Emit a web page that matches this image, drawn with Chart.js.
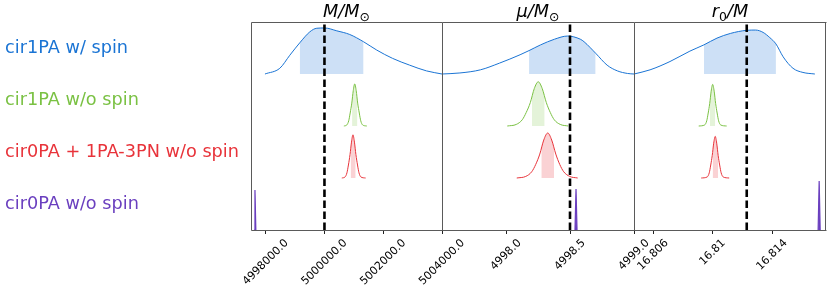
<!DOCTYPE html>
<html>
<head>
<meta charset="utf-8">
<script src="https://cdn.jsdelivr.net/npm/chart.js@4.4.0/dist/chart.umd.min.js"></script>
<style>
	body { margin: 0; background: #fff; }
	#wrap { position: relative; width: 830px; height: 290px; }
	#wrap canvas { position: absolute; left: 0; top: 0; }
</style>
</head>
<body>
<div id="wrap">
	<canvas id="pM" width="830" height="290"></canvas>
	<canvas id="pMu" width="830" height="290"></canvas>
	<canvas id="pR" width="830" height="290"></canvas>
</div>
<script>
// rows, top to bottom
const rowLabels = ['cir1PA w/ spin', 'cir1PA w/o spin', 'cir0PA + 1PA-3PN w/o spin', 'cir0PA w/o spin'];
const rowColors = ['#1a74d4', '#7ac143', '#e8333a', '#6a3fbf'];
const rowFills = ['rgba(26,116,212,0.22)', 'rgba(122,193,67,0.2)', 'rgba(232,51,58,0.22)', '#6a3fbf'];
const rowBase = [3, 2, 1, 0];

// M / Msun panel: [value, density height]
const mTicks = [4998000, 5000000, 5002000, 5004000];
const mTickLabels = ['4998000.0', '5000000.0', '5002000.0', '5004000.0'];
const mTrue = 5000000;
const mSpin = [[4997975, 0], [4998480, 0.11], [4998820, 0.36], [4999160, 0.60], [4999500, 0.81], [4999740, 0.88],
	[5000010, 0.885], [5000420, 0.83], [5000860, 0.76], [5001330, 0.62], [5001780, 0.46], [5002320, 0.30],
	[5002900, 0.17], [5003470, 0.06], [5004000, 0]];
const mSpinBand = [[4999160, 0.60], [4999500, 0.81], [4999740, 0.88], [5000010, 0.885], [5000420, 0.83], [5000860, 0.76], [5001330, 0.62]];
const mNoSpin = [[5000660, 0], [5000760, 0.02], [5000825, 0.10], [5000875, 0.25], [5000930, 0.44], [5000980, 0.68], [5001030, 0.81],
	[5001080, 0.68], [5001130, 0.44], [5001185, 0.25], [5001235, 0.10], [5001300, 0.02], [5001440, 0]];
const mNoSpinBand = [[5000940, 0.50], [5000980, 0.68], [5001030, 0.81], [5001080, 0.68], [5001120, 0.48]];
const mPN = [[5000590, 0], [5000700, 0.02], [5000765, 0.10], [5000815, 0.25], [5000870, 0.45], [5000920, 0.69], [5000970, 0.83],
	[5001020, 0.69], [5001070, 0.45], [5001125, 0.25], [5001175, 0.10], [5001240, 0.02], [5001400, 0]];
const mPNBand = [[5000892, 0.55], [5000920, 0.69], [5000970, 0.83], [5001020, 0.69], [5001062, 0.49]];
const mZero = [[4997605, 0], [4997635, 0.77], [4997665, 0]];

// mu / Msun panel
const muTicks = [4998.0, 4998.5, 4999.0];
const muTickLabels = ['4998.0', '4998.5', '4999.0'];
const muTrue = 4998.5;
const muSpin = [[4997.50, 0], [4997.64, 0.02], [4997.80, 0.08], [4997.95, 0.21], [4998.11, 0.37], [4998.18, 0.45],
	[4998.27, 0.56], [4998.38, 0.67], [4998.48, 0.73], [4998.58, 0.67], [4998.61, 0.62], [4998.70, 0.40],
	[4998.79, 0.17], [4998.87, 0.06], [4998.95, 0.01], [4999.0, 0]];
const muSpinBand = [[4998.18, 0.45], [4998.27, 0.56], [4998.38, 0.67], [4998.48, 0.73], [4998.58, 0.67], [4998.61, 0.62], [4998.70, 0.40]];
const muNoSpin = [[4998.010, 0], [4998.080, 0.03], [4998.127, 0.12], [4998.158, 0.26], [4998.190, 0.45], [4998.221, 0.72], [4998.252, 0.85],
	[4998.283, 0.72], [4998.315, 0.45], [4998.346, 0.26], [4998.377, 0.12], [4998.424, 0.03], [4998.486, 0]];
const muNoSpinBand = [[4998.203, 0.57], [4998.221, 0.72], [4998.252, 0.85], [4998.283, 0.72], [4998.302, 0.57]];
const muPN = [[4998.084, 0], [4998.154, 0.03], [4998.201, 0.12], [4998.232, 0.26], [4998.264, 0.46], [4998.295, 0.73], [4998.326, 0.865],
	[4998.357, 0.73], [4998.389, 0.46], [4998.420, 0.26], [4998.451, 0.12], [4998.498, 0.03], [4998.560, 0]];
const muPNBand = [[4998.276, 0.57], [4998.295, 0.73], [4998.326, 0.865], [4998.357, 0.73], [4998.375, 0.57]];
const muZero = [[4998.539, 0], [4998.547, 0.79], [4998.555, 0]];

// r0 / M panel
const rTicks = [16.806, 16.81, 16.814];
const rTickLabels = ['16.806', '16.81', '16.814'];
const rTrue = 16.8123;
const rSpin = [[16.80472, 0], [16.80580, 0.08], [16.80714, 0.24], [16.80848, 0.44], [16.80942, 0.56], [16.81030, 0.69],
	[16.81120, 0.78], [16.81231, 0.84], [16.81290, 0.845], [16.81340, 0.80], [16.81385, 0.70], [16.81426, 0.58],
	[16.81475, 0.33], [16.81541, 0.11], [16.81608, 0.03], [16.81688, 0]];
const rSpinBand = [[16.80942, 0.56], [16.81030, 0.69], [16.81120, 0.78], [16.81231, 0.84], [16.81290, 0.845], [16.81340, 0.80], [16.81385, 0.70], [16.81426, 0.58]];
const rNoSpin = [[16.80907, 0], [16.80947, 0.02], [16.80961, 0.10], [16.80971, 0.25], [16.80981, 0.43], [16.80991, 0.67], [16.81001, 0.80],
	[16.81011, 0.67], [16.81021, 0.43], [16.81031, 0.25], [16.81041, 0.10], [16.81055, 0.02], [16.81095, 0]];
const rNoSpinBand = [[16.80983, 0.48], [16.80991, 0.67], [16.81001, 0.80], [16.81011, 0.67], [16.81018, 0.50]];
const rPN = [[16.80924, 0], [16.80964, 0.02], [16.80978, 0.10], [16.80988, 0.25], [16.80998, 0.43], [16.81008, 0.67], [16.81018, 0.80],
	[16.81028, 0.67], [16.81038, 0.43], [16.81048, 0.25], [16.81058, 0.10], [16.81072, 0.02], [16.81112, 0]];
const rPNBand = [[16.81001, 0.50], [16.81008, 0.67], [16.81018, 0.80], [16.81028, 0.67], [16.81038, 0.43]];
const rZero = [[16.81710, 0], [16.81717, 0.94], [16.81724, 0]];

const FONT = 'DejaVu Sans';

// box round each panel
const frame = {
	id: 'frame',
	afterDatasetsDraw(chart, args, opts) {
		const a = chart.chartArea, ctx = chart.ctx;
		const l = Math.round(a.left) + 0.5, r = Math.round(a.right) - 0.5;
		const t = Math.round(a.top) + 0.5, b = Math.round(a.bottom) + 0.5;
		ctx.save();
		ctx.strokeStyle = '#5a5a5a';
		ctx.lineWidth = 1;
		ctx.beginPath();
		ctx.moveTo(l, b); ctx.lineTo(l, t); ctx.lineTo(r + 1, t);
		ctx.moveTo(l, b); ctx.lineTo(r + 1, b);
		if (opts.right) { ctx.moveTo(r, t); ctx.lineTo(r, b); }
		ctx.stroke();
		ctx.restore();
	}
};

// tick labels turned 45 degrees, centred under the tick
const rotatedTicks = {
	id: 'rotatedTicks',
	afterDraw(chart, args, opts) {
		const sx = chart.scales.x, ctx = chart.ctx;
		ctx.save();
		ctx.font = '11px "' + FONT + '"';
		ctx.fillStyle = '#000';
		ctx.textAlign = 'center';
		ctx.textBaseline = 'middle';
		sx.ticks.forEach(function(t, i) {
			const text = opts.labels[i];
			const w = ctx.measureText(text).width;
			const half = (w + 12) * Math.SQRT1_2 / 2;
			ctx.save();
			ctx.translate(sx.getPixelForValue(t.value), sx.top + 7 + half);
			ctx.rotate(-Math.PI / 4);
			ctx.fillText(text, 0, 0);
			ctx.restore();
		});
		ctx.restore();
	}
};

// mathtext-like title: italic parts and small subscripts
const mathTitle = {
	id: 'mathTitle',
	afterDraw(chart, args, opts) {
		const ctx = chart.ctx, a = chart.chartArea;
		const fontOf = p => (p.upright ? '' : 'italic ') + (p.sub ? 12.4 : 17.7) + 'px "' + FONT + '"';
		ctx.save();
		ctx.fillStyle = '#000';
		ctx.textBaseline = 'alphabetic';
		let total = 0;
		opts.parts.forEach(function(p) { ctx.font = fontOf(p); p.w = ctx.measureText(p.t).width; total += p.w; });
		let x = (a.left + a.right) / 2 - total / 2;
		opts.parts.forEach(function(p) {
			ctx.font = fontOf(p);
			ctx.fillText(p.t, x, a.top - 5 + (p.sub ? 3.5 : 0));
			x += p.w;
		});
		ctx.restore();
	}
};

function toXY(points, base) {
	return points.map(p => ({x: p[0], y: base + p[1]}));
}

function buildDatasets(curves, bands, spike, truth) {
	const sets = [];
	curves.forEach(function(c, i) {
		sets.push({data: toXY(c, rowBase[i]), borderColor: rowColors[i], borderWidth: 1, pointRadius: 0,
			fill: false, cubicInterpolationMode: 'monotone', order: 1});
	});
	bands.forEach(function(b, i) {
		sets.push({data: toXY(b, rowBase[i]), borderWidth: 0, borderColor: 'rgba(0,0,0,0)', backgroundColor: rowFills[i],
			pointRadius: 0, fill: {value: rowBase[i]}, cubicInterpolationMode: 'monotone', order: 2});
	});
	sets.push({data: toXY(spike, rowBase[3]), borderColor: rowColors[3], backgroundColor: rowFills[3], borderWidth: 1.2,
		pointRadius: 0, fill: {value: rowBase[3]}, tension: 0, order: 1});
	sets.push({data: [{x: truth, y: 0}, {x: truth, y: 4}], borderColor: '#000', borderWidth: 2.6, borderDash: [7.5, 3.5],
		pointRadius: 0, fill: false, tension: 0, order: 0});
	return sets;
}

const panels = [
	{id: 'pM', left: 251, right: 442, min: 4997500, max: 5004000, ticks: mTicks, labels: mTickLabels,
		curves: [mSpin, mNoSpin, mPN], bands: [mSpinBand, mNoSpinBand, mPNBand], spike: mZero, truth: mTrue,
		title: [{t: 'M/M'}, {t: '\u2299', sub: true, upright: true}]},
	{id: 'pMu', left: 442, right: 634, min: 4997.5, max: 4999.0, ticks: muTicks, labels: muTickLabels,
		curves: [muSpin, muNoSpin, muPN], bands: [muSpinBand, muNoSpinBand, muPNBand], spike: muZero, truth: muTrue,
		title: [{t: '\u03bc/M'}, {t: '\u2299', sub: true, upright: true}]},
	{id: 'pR', left: 634, right: 826, min: 16.80472, max: 16.81763, ticks: rTicks, labels: rTickLabels,
		curves: [rSpin, rNoSpin, rPN], bands: [rSpinBand, rNoSpinBand, rPNBand], spike: rZero, truth: rTrue,
		title: [{t: 'r'}, {t: '0', sub: true, upright: true}, {t: '/M'}]}
];

panels.forEach(function(p, k) {
	const first = k === 0;
	new Chart(document.getElementById(p.id), {
		type: 'line',
		data: {datasets: buildDatasets(p.curves, p.bands, p.spike, p.truth)},
		plugins: [frame, rotatedTicks, mathTitle],
		options: {
			responsive: false,
			animation: false,
			events: [],
			layout: {padding: {left: first ? 5 : p.left, right: 830 - p.right, top: 22, bottom: 0}},
			plugins: {
				legend: {display: false},
				tooltip: {enabled: false},
				frame: {right: k === panels.length - 1},
				rotatedTicks: {labels: p.labels},
				mathTitle: {parts: p.title}
			},
			scales: {
				x: {
					type: 'linear',
					min: p.min,
					max: p.max,
					afterBuildTicks: s => { s.ticks = p.ticks.map(v => ({value: v})); },
					afterFit: s => { s.height = 60; },
					ticks: {display: false},
					grid: {drawOnChartArea: false, drawTicks: true, tickLength: 4, color: '#222'},
					border: {display: false}
				},
				y: {
					display: first,
					min: 0,
					max: 4,
					afterBuildTicks: s => { s.ticks = [0.5, 1.5, 2.5, 3.5].map(v => ({value: v})); },
					afterFit: s => { s.width = first ? 246 : 0; },
					ticks: {
						crossAlign: 'far',
						autoSkip: false,
						font: {family: FONT, size: 17.7},
						color: ctx => rowColors[3 - Math.floor(ctx.tick.value)],
						callback: v => rowLabels[3 - Math.floor(v)]
					},
					grid: {display: false},
					border: {display: false}
				}
			}
		}
	});
});
</script>
</body>
</html>
